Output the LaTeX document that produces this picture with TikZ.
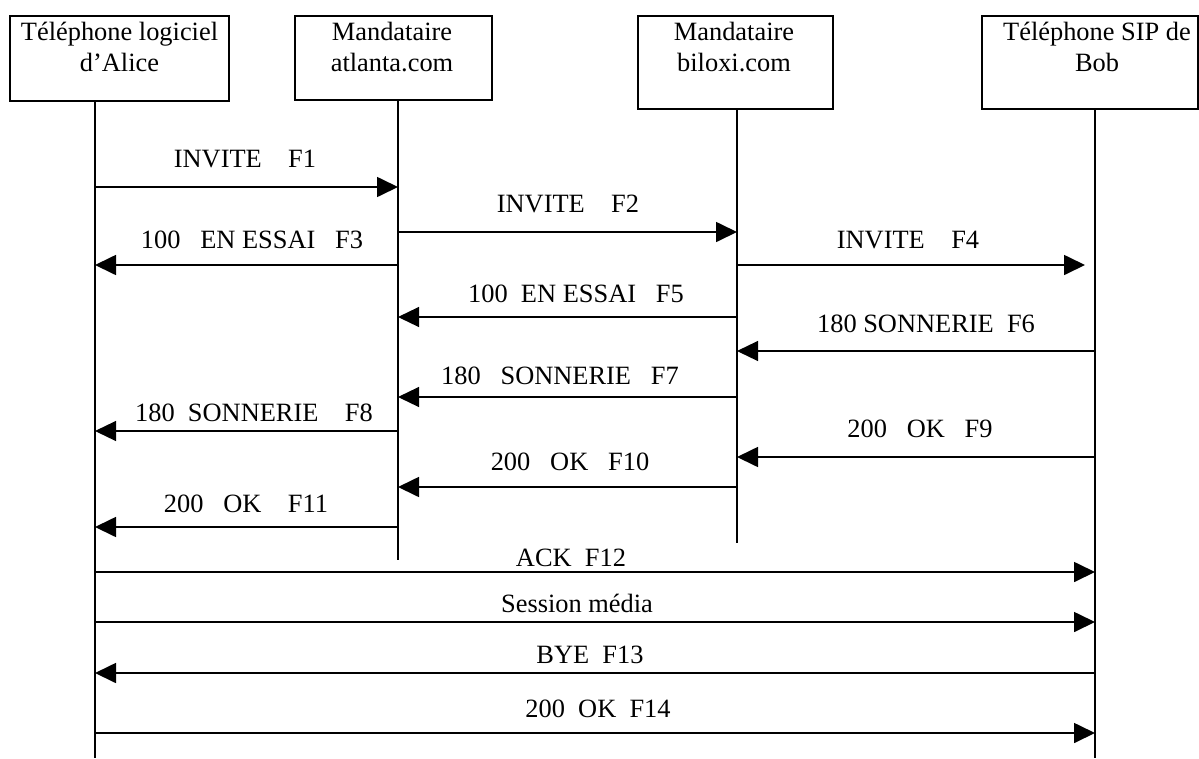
\documentclass[tikz,border=0pt]{standalone}
\usepackage{fontspec}
\setmainfont{Liberation Serif}
\usetikzlibrary{arrows.meta}
\begin{document}
\begin{tikzpicture}[x=1pt,y=-1pt,
  font=\fontsize{26.4}{31}\selectfont,
  box/.style={draw,line width=1.6pt,rectangle,anchor=north west,inner sep=0pt},
  title/.style={anchor=base,align=center,inner sep=0pt},
  life/.style={line width=1.6pt},
  msg/.style={line width=1.7pt,-{Triangle[length=21pt,width=20pt]}},
  msgthin/.style={line width=1.2pt,-{Triangle[length=21pt,width=20pt]}},
  lbl/.style={anchor=base,inner sep=0pt}]
\useasboundingbox (0,0) rectangle (1199,758);

% participant boxes
\node[box,minimum width=219pt,minimum height=85pt] (a) at (9,15) {};
\node[box,minimum width=197pt,minimum height=84pt] (b) at (294,15) {};
\node[box,minimum width=195pt,minimum height=93pt] (c) at (637,15) {};
\node[box,minimum width=216pt,minimum height=93pt] (d) at (981,15) {};
% titles: the base anchor sits on the last line
\node[title] (at) at (119.5,71) {Téléphone logiciel\\d’Alice};
\node[title] (bt) at (392,71) {Mandataire\\atlanta.com};
\node[title] (ct) at (734,71) {Mandataire\\biloxi.com};
\node[title] (dt) at (1097,71) {Téléphone SIP de\\Bob};

% lifeline ends
\coordinate (la) at (95,758);
\coordinate (lb) at (398,560);
\coordinate (lc) at (737,543);
\coordinate (ld) at (1095,758);
\draw[life] (la |- a.south) -- (la);
\draw[life] (lb |- b.south) -- (lb);
\draw[life] (lc |- c.south) -- (lc);
\draw[life] (ld |- d.south) -- (ld);

% messages
\draw[msg] (la |- 0,187) -- (lb |- 0,187);
\node[lbl] (m1) at (245,167) {INVITE~~~~F1};

\draw[msg] (lb |- 0,232) -- (lc |- 0,232);
\node[lbl] (m2) at (568,212) {INVITE~~~~F2};

\draw[msg] (lb |- 0,265) -- (la |- 0,265);
\node[lbl] (m3) at (252,248) {100~~~EN ESSAI~~~F3};

\draw[msg,shorten >=10pt] (lc |- 0,265) -- (ld |- 0,265);
\node[lbl] (m4) at (908,248) {INVITE~~~~F4};

\draw[msgthin] (lc |- 0,317) -- (lb |- 0,317);
\node[lbl] (m5) at (576,302) {100~~EN ESSAI~~~F5};

\draw[msgthin] (ld |- 0,351) -- (lc |- 0,351);
\node[lbl] (m6) at (926,332) {180 SONNERIE~~F6};

\draw[msgthin] (lc |- 0,397) -- (lb |- 0,397);
\node[lbl] (m7) at (560,384) {180~~~SONNERIE~~~F7};

\draw[msgthin] (lb |- 0,431) -- (la |- 0,431);
\node[lbl] (m8) at (254,421) {180~~SONNERIE~~~~F8};

\draw[msg] (ld |- 0,457) -- (lc |- 0,457);
\node[lbl] (m9) at (920,437) {200~~~OK~~~F9};

\draw[msg] (lc |- 0,487) -- (lb |- 0,487);
\node[lbl] (m10) at (570,470) {200~~~OK~~~F10};

\draw[msg] (lb |- 0,527) -- (la |- 0,527);
\node[lbl] (m11) at (246,512) {200~~~OK~~~~F11};

\draw[msg] (la |- 0,572) -- (ld |- 0,572);
\node[lbl] (m12) at (571,566) {ACK~~F12};

\draw[msg] (la |- 0,622) -- (ld |- 0,622);
\node[lbl] (m13) at (577,612) {Session média};

\draw[msg] (ld |- 0,673) -- (la |- 0,673);
\node[lbl] (m14) at (590,663) {BYE~~F13};

\draw[msg] (la |- 0,733) -- (ld |- 0,733);
\node[lbl] (m15) at (598,717) {200~~OK~~F14};
\end{tikzpicture}
\end{document}
